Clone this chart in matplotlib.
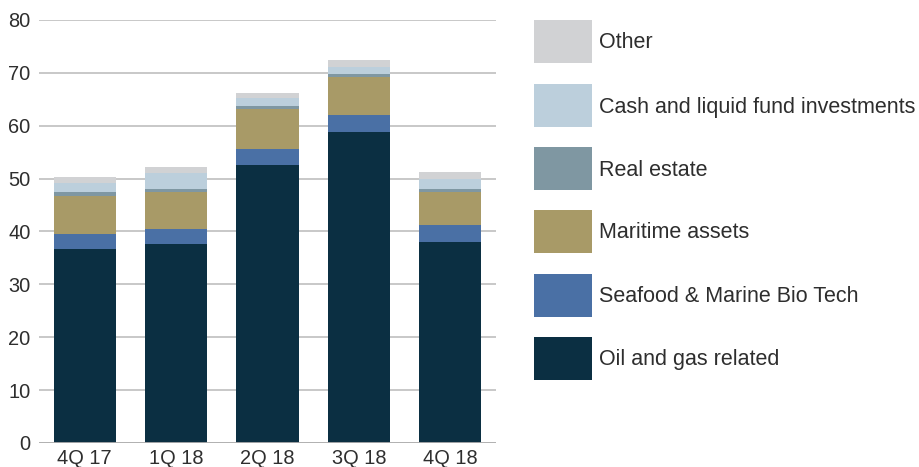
import matplotlib
matplotlib.use("Agg")
import matplotlib.pyplot as plt
from matplotlib.patches import Rectangle
import numpy as np

plt.rcParams['font.family'] = ['Liberation Sans', 'DejaVu Sans']

categories = ["4Q 17", "1Q 18", "2Q 18", "3Q 18", "4Q 18"]
oil_gas = [36.7, 37.6, 52.6, 58.8, 38.0]
seafood = [2.8, 2.9, 3.0, 3.2, 3.2]
maritime = [7.3, 7.0, 7.5, 7.2, 6.3]
real_estate = [0.7, 0.5, 0.6, 0.6, 0.5]
cash = [1.7, 3.1, 1.5, 1.3, 1.9]
other = [1.1, 1.1, 1.0, 1.3, 1.4]

series_names = ["Oil and gas related", "Seafood & Marine Bio Tech", "Maritime assets",
                "Real estate", "Cash and liquid fund investments", "Other"]
series_values = [oil_gas, seafood, maritime, real_estate, cash, other]
colors = ["#0b2f42", "#4a70a5", "#a89a67", "#7f97a2", "#bccfdc", "#d1d2d4"]

fig = plt.figure(figsize=(9.2, 4.67), dpi=100)
ax = fig.add_axes([39/920, 1-443/467, (496-39)/920, (443-20)/467])

x = np.arange(len(categories))
bottom = np.zeros(len(categories))
for name, vals, c in zip(series_names, series_values, colors):
    ax.bar(x, vals, width=0.68, bottom=bottom, color=c, label=name, zorder=3, linewidth=0)
    bottom += np.array(vals)

ax.set_xlim(-0.5, 4.5)
ax.set_ylim(0, 80)
ax.set_yticks(range(0, 81, 10))
ax.set_xticks(x)
ax.set_xticklabels(categories)
ax.grid(axis='y', color='#c4c4c4', linewidth=1.3, zorder=0)
ax.axhline(0, color='#b0b0b0', linewidth=2.0, zorder=4)
for s in ax.spines.values():
    s.set_visible(False)
ax.tick_params(axis='both', length=0, labelsize=14.4, colors='#2e2e2e', pad=6)
ax.tick_params(axis='x', pad=4)

# legend (top to bottom: reversed order)
px0, pw, ph = 534, 58, 43
row_tops = [20, 84, 147, 210, 274, 337]
for i, (name, c) in enumerate(zip(series_names[::-1], colors[::-1])):
    top = row_tops[i]
    fig.add_artist(Rectangle((px0/920, 1-(top+ph)/467), pw/920, ph/467,
                             transform=fig.transFigure, color=c, linewidth=0))
    fig.text(599/920, 1-(top+ph/2+1.5)/467, name, fontsize=15.5, color='#2e2e2e',
             va='center', ha='left')

fig.savefig("out.png", dpi=100)
